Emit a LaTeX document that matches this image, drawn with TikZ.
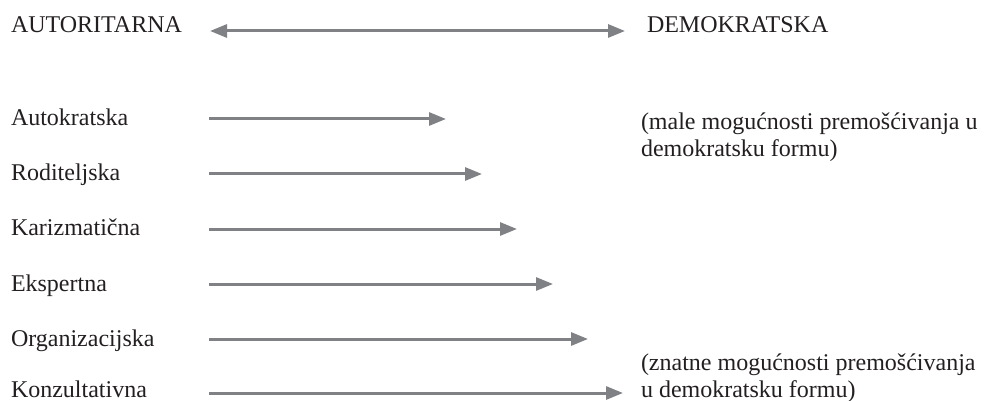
\documentclass[tikz,border=0pt]{standalone}
\usepackage{fontspec}
\setmainfont{Liberation Serif}
\usetikzlibrary{arrows.meta}
\definecolor{arrowgray}{RGB}{128,129,133}
\definecolor{inkc}{RGB}{35,31,32}
\tikzset{
  lbl/.style={inner sep=0pt, outer sep=0pt, anchor=base west, text=inkc, font=\fontsize{24}{27}\selectfont},
  note/.style={lbl, align=left},
  garrow/.style={draw=arrowgray, line width=3pt, -{Triangle[length=17pt,width=13pt]}},
  gdarrow/.style={draw=arrowgray, line width=3pt, {Triangle[length=17pt,width=13pt]}-{Triangle[length=17pt,width=13pt]}}
}
\begin{document}
\begin{tikzpicture}[x=1pt,y=-1pt]
\useasboundingbox (0,0) rectangle (994,401);
% header
\node[lbl] (aut) at (11,33) {AUTORITARNA};
\node[lbl] (dem) at (647,33) {DEMOKRATSKA};
\coordinate (hl) at (210,31);
\coordinate (hr) at (625,31);
\draw[gdarrow] (hl) -- (hr);
% rows
\node[lbl] (r1) at (11,126) {Autokratska};
\node[lbl] (r2) at (11,181) {Roditeljska};
\node[lbl] (r3) at (11,236) {Karizmatična};
\node[lbl] (r4) at (11,291) {Ekspertna};
\node[lbl] (r5) at (11,346) {Organizacijska};
\node[lbl] (r6) at (11,397) {Konzultativna};
\coordinate (s1) at (209,119); \coordinate (e1) at (446,119);
\coordinate (s2) at (209,174); \coordinate (e2) at (482,174);
\coordinate (s3) at (209,229); \coordinate (e3) at (517,229);
\coordinate (s4) at (209,284); \coordinate (e4) at (553,284);
\coordinate (s5) at (209,339); \coordinate (e5) at (588,339);
\coordinate (s6) at (209,393); \coordinate (e6) at (623,393);
\foreach \i in {1,...,6} \draw[garrow] (s\i) -- (e\i);
% notes (base anchor = last line)
\node[note] (n1) at (641,157) {(male mogućnosti premošćivanja u\\demokratsku formu)};
\node[note] (n2) at (641,397) {(znatne mogućnosti premošćivanja\\u demokratsku formu)};
\end{tikzpicture}
\end{document}
